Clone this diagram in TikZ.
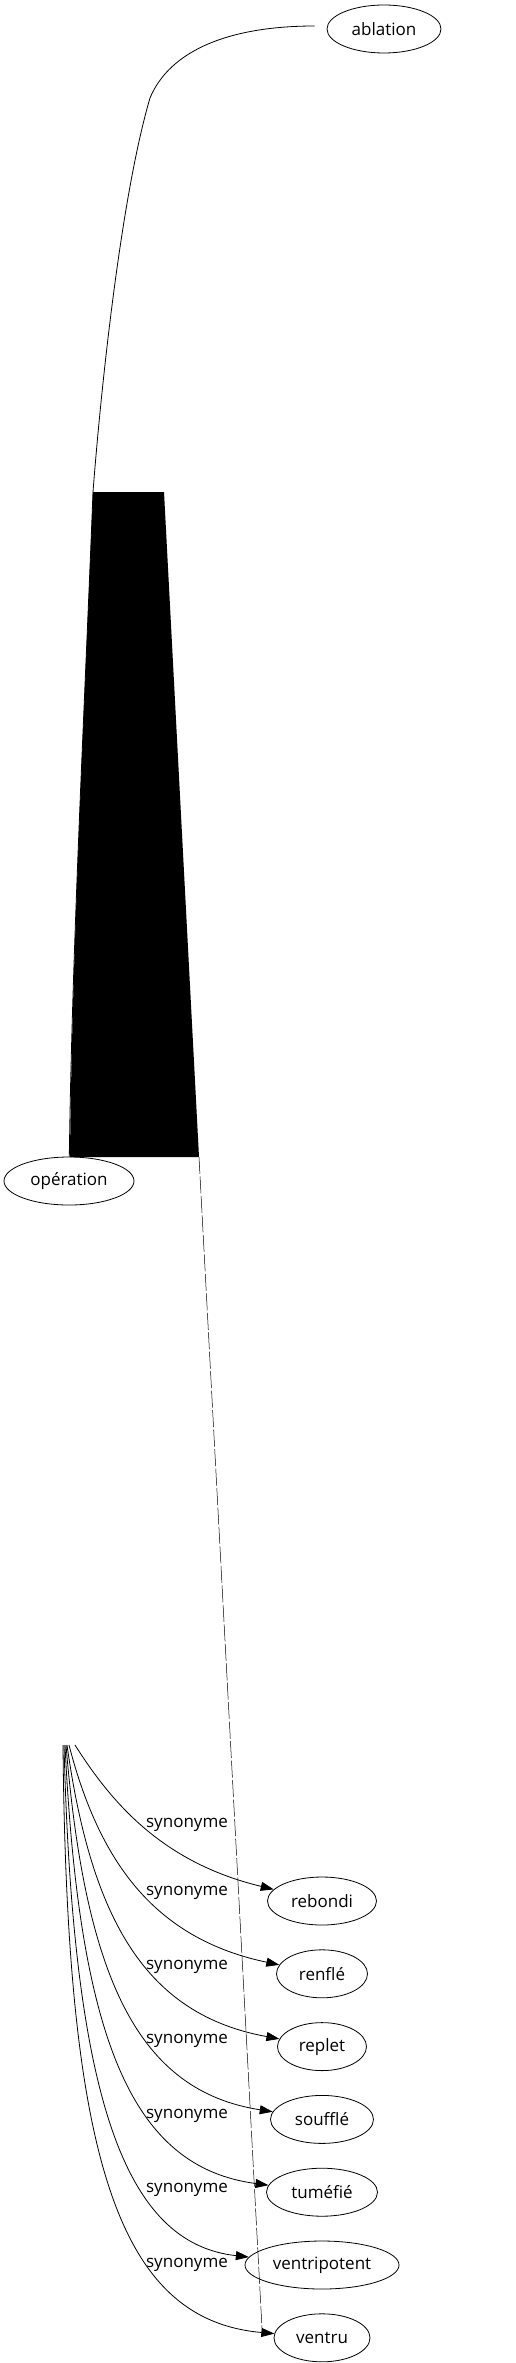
\documentclass[tikz,border=0pt]{standalone}
\usepackage{fontspec}
\setmainfont{Open Sans}
\usetikzlibrary{arrows.meta, positioning, shapes.geometric}

\begin{document}
\begin{tikzpicture} [
    x=1pt, y=-1pt,
    word/.style={draw, shape=ellipse, minimum height=48pt, inner sep=1pt, line width=0.8pt, font=\fontsize{17}{20}\selectfont},
    lbl/.style={inner sep=0pt, font=\fontsize{17}{20}\selectfont},
    plain edge/.style={draw, line width=0.8pt},
    syn edge/.style={draw, ->, >={Triangle[length=13pt, width=9pt]}, line width=0.8pt},
    thin edge/.style={draw, line width=0.5pt, dash pattern=on 17pt off 2.5pt}
  ]
  \useasboundingbox (0,0) rectangle (516,2363);

  % Nodes and Positions
  % TOP
  \node[word, minimum width=114pt] (ablation) at (384,29) {ablation};
  \node[word, minimum width=130pt] (operation) at (69,1181) {opération};

  % SYNONYMS
  \node[word, minimum width=109pt] (rebondi) at (322,1901) {rebondi};
  \node[word, minimum width=91pt] (renfle) [below=24pt of rebondi] {renflé};
  \node[word, minimum width=89pt] (replet) [below=24pt of renfle] {replet};
  \node[word, minimum width=103pt] (souffle) [below=24pt of replet] {soufflé};
  \node[word, minimum width=111pt] (tumefie) [below=24pt of souffle] {tuméfié};
  \node[word, minimum width=154pt] (ventripotent) [below=24pt of tumefie] {ventripotent};
  \node[word, minimum width=96pt] (ventru) [below=24pt of ventripotent] {ventru};

  % Block
  \coordinate (tl) at (93,492);
  \coordinate (tr) at (164,492);
  \coordinate (br) at (199,1157);
  \coordinate (bl) at (70,1157);
  \fill (bl) -- (br) -- (tr) -- (tl) .. controls (85,700) and (72,950) .. (bl) -- cycle;

  % Edges
  \draw[plain edge, shorten >=12pt] (operation) .. controls (72,950) and (85,700) .. (tl)
    .. controls (100,400) and (120,200) .. (150,98)
    .. controls (170,50) and (230,26) .. ([yshift=3pt]ablation.west);

  \coordinate (dend) at (262,2328);
  \draw[thin edge] (br) -- (dend);

  \coordinate (src) at (63,1745);
  \foreach \n/\dx/\ly [count=\i from 0] in {rebondi/12/1825, renfle/6/1893, replet/4/1967, souffle/3/2041, tumefie/2/2116, ventripotent/1/2190, ventru/0/2265} {
    \draw[syn edge] ([xshift=\dx pt]src) .. controls +(35-5.2*\i, 55+60*\i) and +(-162-7*\i, -39+3.5*\i) .. (\n);
    \node[lbl] (syn\i) at (187,\ly) {synonyme};
  }

\end{tikzpicture}
\end{document}
